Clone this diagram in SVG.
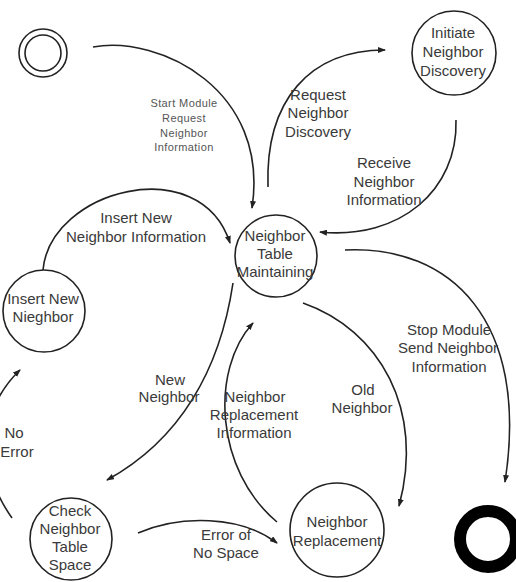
<svg xmlns="http://www.w3.org/2000/svg" width="516" height="582" viewBox="0 0 516 582">
<style>
.node{fill:#fff;stroke:#222;stroke-width:1.6}
.t{font-family:"Liberation Sans",Arial,sans-serif;font-size:15px;fill:#3a3a3a;text-anchor:middle}
.s{font-family:"Liberation Sans",Arial,sans-serif;font-size:11px;fill:#555;text-anchor:middle;letter-spacing:0.4px}
.c{fill:none;stroke:#222;stroke-width:1.6}
</style>
<defs>
<marker id="ah" markerWidth="8" markerHeight="6" refX="7" refY="3" orient="auto" markerUnits="userSpaceOnUse">
<path d="M0,0 L8,3 L0,6 Z" fill="#222"/>
</marker>
</defs>
<rect width="516" height="582" fill="#fff"/>
<g id="connectors">
<path class="c" d="M93,47 C160,35 270,90 252,208" marker-end="url(#ah)"/>
<path class="c" d="M268,187 C265,100 310,50 385,50" marker-end="url(#ah)"/>
<path class="c" d="M456,120 C458,190 400,240 320,232" marker-end="url(#ah)"/>
<path class="c" d="M43,270 C50,190 200,150 230,243" marker-end="url(#ah)"/>
<path class="c" d="M233,283 C220,370 180,440 107,480" marker-end="url(#ah)"/>
<path class="c" d="M12,518 C-22,470 -22,410 20,370" marker-end="url(#ah)"/>
<path class="c" d="M138,533 C180,515 240,515 277,543" marker-end="url(#ah)"/>
<path class="c" d="M277,522 C215,470 210,370 253,323" marker-end="url(#ah)"/>
<path class="c" d="M303,303 C380,330 425,410 399,506" marker-end="url(#ah)"/>
<path class="c" d="M345,250 C450,245 530,320 505,482" marker-end="url(#ah)"/>
<text class="s" x="184" y="107">Start Module</text>
<text class="s" x="184" y="122">Request</text>
<text class="s" x="184" y="137">Neighbor</text>
<text class="s" x="184" y="151">Information</text>
<text class="t" x="318" y="100">Request</text>
<text class="t" x="318" y="118">Neighbor</text>
<text class="t" x="318" y="137">Discovery</text>
<text class="t" x="384" y="168">Receive</text>
<text class="t" x="384" y="187">Neighbor</text>
<text class="t" x="384" y="205">Information</text>
<text class="t" x="136" y="223">Insert New</text>
<text class="t" x="136" y="242">Neighbor Information</text>
<text class="t" x="170" y="385">New</text>
<text class="t" x="169" y="402">Neighbor</text>
<text class="t" x="14" y="438">No</text>
<text class="t" x="17" y="457">Error</text>
<text class="t" x="255" y="402">Neighbor</text>
<text class="t" x="254" y="420">Replacement</text>
<text class="t" x="254" y="438">Information</text>
<text class="t" x="363" y="395">Old</text>
<text class="t" x="362" y="413">Neighbor</text>
<text class="t" x="449" y="335">Stop Module</text>
<text class="t" x="448" y="353">Send Neighbor</text>
<text class="t" x="449" y="372">Information</text>
<text class="t" x="226" y="540">Error of</text>
<text class="t" x="226" y="558">No Space</text>
</g>
<g id="start">
<circle class="node" cx="43" cy="53" r="24"/>
<circle class="node" cx="43" cy="53" r="18"/>
</g>
<g id="initiate">
<circle class="node" cx="454" cy="53" r="42" fill="none"/>
<text class="t" x="453" y="38">Initiate</text>
<text class="t" x="453" y="57">Neighbor</text>
<text class="t" x="453" y="76">Discovery</text>
</g>
<g id="maintaining">
<circle class="node" cx="276" cy="256" r="41"/>
<text class="t" x="275" y="241">Neighbor</text>
<text class="t" x="275" y="259">Table</text>
<text class="t" x="275" y="277">Maintaining</text>
</g>
<g id="insert">
<circle class="node" cx="44" cy="311" r="41"/>
<text class="t" x="43" y="304">Insert New</text>
<text class="t" x="43" y="322">Nieghbor</text>
</g>
<g id="check">
<circle class="node" cx="71" cy="539" r="41"/>
<text class="t" x="70" y="516">Check</text>
<text class="t" x="70" y="534">Neighbor</text>
<text class="t" x="70" y="552">Table</text>
<text class="t" x="70" y="570">Space</text>
</g>
<g id="replacement">
<circle class="node" cx="337" cy="530" r="47"/>
<text class="t" x="337" y="527">Neighbor</text>
<text class="t" x="337" y="546">Replacement</text>
</g>
<g id="end">
<circle cx="488" cy="539" r="28" fill="none" stroke="#000" stroke-width="12"/>
</g>
</svg>
